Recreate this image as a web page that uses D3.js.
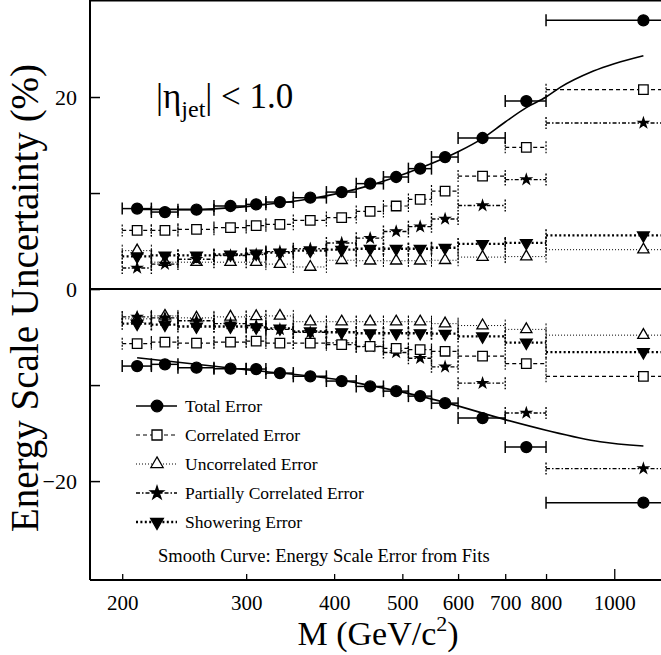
<!DOCTYPE html>
<html><head><meta charset="utf-8">
<script src="https://cdn.jsdelivr.net/npm/d3@7"></script>
<style>
body{margin:0;background:#fff}
svg{display:block}
text{font-family:"Liberation Serif","Times New Roman",serif;fill:#000}
</style>
</head><body>
<svg id="chart" width="661" height="655"></svg>
<script>
// ---- data ----
const binLow  = [200,220,240,270,300,320,350,390,430,470,510,550,600,700,800];
const binHigh = [220,240,270,300,320,350,390,430,470,510,550,600,700,800,1400];
const massCenter = [210,230,255,285,310,335,370,410,450,490,530,575,650,750,1100];

const totalUp   = [8.38,8.02,8.27,8.65,8.82,9.06,9.52,10.10,10.98,11.67,12.54,13.75,15.73,19.58,27.99];
const corrUp    = [6.11,6.11,6.22,6.40,6.60,6.74,7.15,7.44,8.09,8.65,9.34,10.2,11.77,14.76,20.77];
const uncorrUp  = [4.0,2.8,2.8,2.8,2.8,2.6,2.3,3.0,2.95,2.95,2.95,3.0,3.33,3.38,4.1];
const partialUp = [2.2,2.6,3.1,3.5,3.6,3.9,4.2,4.8,5.3,6.0,6.5,7.3,8.7,11.4,17.3];
const showerUp  = [3.4,3.5,3.5,3.6,3.7,3.8,4.0,4.1,4.2,4.2,4.2,4.3,4.7,4.8,5.6];

const totalLow   = [-8.02,-7.84,-8.19,-8.29,-8.33,-8.75,-9.09,-9.58,-10.14,-10.63,-11.15,-11.88,-13.44,-16.46,-22.25];
const corrLow    = [-5.69,-5.52,-5.63,-5.52,-5.42,-5.63,-5.63,-5.79,-5.97,-6.18,-6.30,-6.48,-6.98,-7.77,-9.09];
const uncorrLow  = [-3.1,-2.8,-3.0,-2.9,-2.85,-2.8,-3.4,-3.4,-3.4,-3.4,-3.4,-3.6,-3.8,-4.2,-4.8];
const partialLow = [-2.9,-3.0,-3.3,-3.6,-3.8,-4.2,-4.5,-5.6,-6.0,-6.6,-7.2,-8.1,-9.8,-12.9,-18.7];
const showerLow  = [-3.6,-3.7,-3.9,-3.9,-4.0,-4.1,-4.4,-4.5,-4.6,-4.6,-4.6,-4.65,-4.93,-5.58,-6.56];

// smooth fit curves
const fitUpMass  = [210,255,310,370,450,530,600,650,700,750,800,838,934,1100];
const fitUpVal   = [8.3,8.3,8.7,9.4,10.8,12.6,14.3,15.7,17.4,18.9,20.0,21.0,22.7,24.3];
const fitLowMass = [210,300,410,436,575,700,800,955,1100];
const fitLowVal  = [-7.15,-8.4,-9.5,-9.85,-11.8,-13.6,-14.7,-15.9,-16.35];

const xTicks = [200,300,400,500,600,700,800,1000];
const yTicks = [20,10,0,-10,-20];
const yLabelTicks = [20,0,-20];
const legendNames = ["Total Error","Correlated Error","Uncorrelated Error","Partially Correlated Error","Showering Error"];

// ---- scales ----
const svg = d3.select("#chart");
const x = d3.scaleLog().domain([180,1200]).range([90,670]);
const y = d3.scaleLinear().domain([-30.3,30]).range([580,1]);

const plot = svg.append("g");
plot.append("clipPath").attr("id","clip").append("rect")
  .attr("x",90).attr("y",0).attr("width",600).attr("height",580);

const styles = {
  total:   {dash:null,        w:1.5, sym:d3.symbolCircle,   size:95, fill:"#000", rot:0},
  corr:    {dash:"4,3",       w:1.2, sym:d3.symbolSquare,   size:90, fill:"#fff", rot:0},
  uncorr:  {dash:"1,2",       w:1.0, sym:d3.symbolTriangle, size:55, fill:"#fff", rot:0},
  partial: {dash:"4,2,1.5,2", w:1.4, sym:d3.symbolStar,     size:30, fill:"#000", rot:0},
  shower:  {dash:"2,2.4",     w:2.3, sym:d3.symbolTriangle, size:60, fill:"#000", rot:180}
};

const series = [
  {key:"uncorr",  up:uncorrUp,  low:uncorrLow},
  {key:"shower",  up:showerUp,  low:showerLow},
  {key:"partial", up:partialUp, low:partialLow},
  {key:"corr",    up:corrUp,    low:corrLow},
  {key:"total",   up:totalUp,   low:totalLow}
];

const g = plot.append("g").attr("clip-path","url(#clip)");

series.forEach(s=>{
  const st = styles[s.key];
  [s.up, s.low].forEach(vals=>{
    vals.forEach((v,i)=>{
      const yy = y(v), x0 = x(binLow[i]), x1 = x(binHigh[i]);
      g.append("line").attr("x1",x0).attr("x2",x1).attr("y1",yy).attr("y2",yy)
        .attr("stroke","#000").attr("stroke-width",st.w).attr("stroke-dasharray",st.dash);
      [x0,x1].forEach(xc=>{
        g.append("line").attr("x1",xc).attr("x2",xc).attr("y1",yy-6).attr("y2",yy+6)
          .attr("stroke","#000").attr("stroke-width",st.key==="total"?1.5:Math.min(st.w,1.5))
          .attr("stroke-dasharray",st.dash ? "2,1.5" : null);
      });
      g.append("path").attr("d",d3.symbol(st.sym,st.size)())
        .attr("transform",`translate(${x(massCenter[i])},${yy}) rotate(${st.rot})`)
        .attr("fill",st.fill).attr("stroke","#000").attr("stroke-width",1.3);
    });
  });
});

// smooth curves
const curveLine = d3.line().x(d=>x(d[0])).y(d=>y(d[1])).curve(d3.curveMonotoneX);
g.append("path").attr("d",curveLine(d3.zip(fitUpMass,fitUpVal)))
  .attr("fill","none").attr("stroke","#000").attr("stroke-width",1.6);
g.append("path").attr("d",curveLine(d3.zip(fitLowMass,fitLowVal)))
  .attr("fill","none").attr("stroke","#000").attr("stroke-width",1.6);

// zero line
svg.append("line").attr("x1",90).attr("x2",661).attr("y1",y(0)).attr("y2",y(0))
  .attr("stroke","#000").attr("stroke-width",2);

// frame
svg.append("line").attr("x1",90).attr("x2",661).attr("y1",0.5).attr("y2",0.5).attr("stroke","#000").attr("stroke-width",2);
svg.append("line").attr("x1",90).attr("x2",90).attr("y1",0).attr("y2",580).attr("stroke","#000").attr("stroke-width",2);

// axes
const xAxis = d3.axisBottom(x).tickValues(xTicks).tickFormat(d3.format("d")).tickSize(-6).tickPadding(15);
const xa = svg.append("g").attr("transform","translate(0,580)").call(xAxis);
xa.select(".domain").attr("d","M90,0H661").attr("stroke-width",2);
xa.selectAll(".tick line").attr("y2",d=>d===1000?-11:-6).attr("stroke-width",1.3);
xa.selectAll(".tick text").style("font-family","Liberation Serif").style("font-size","21px");

const yAxis = d3.axisLeft(y).tickValues(yTicks)
  .tickFormat(d=>yLabelTicks.includes(d)?d3.format("d")(d):"").tickSize(-10).tickPadding(13);
const ya = svg.append("g").attr("transform","translate(90,0)").call(yAxis);
ya.select(".domain").remove();
ya.selectAll(".tick line").attr("stroke-width",1.5);
ya.selectAll(".tick text").style("font-family","Liberation Serif").style("font-size","22px");

// axis titles
svg.append("text").attr("transform","translate(38,298) rotate(-90)").attr("text-anchor","middle")
  .style("font-size","39px").text("Energy Scale Uncertainty (%)");
const xt = svg.append("text").attr("x",378).attr("y",645).attr("text-anchor","middle").style("font-size","34px");
xt.append("tspan").text("M (GeV/c");
xt.append("tspan").attr("dy",-14).style("font-size","22px").text("2");
xt.append("tspan").attr("dy",14).text(")");

// eta label
const et = svg.append("text").attr("x",156).attr("y",108).style("font-size","35px");
et.append("tspan").text("|\u03b7");
et.append("tspan").attr("dy",9).style("font-size","24px").text("jet");
et.append("tspan").attr("dy",-9).text("| < 1.0");

// legend
const legKeys = ["total","corr","uncorr","partial","shower"];
const legY = [406,435,464,493,522];
legKeys.forEach((k,i)=>{
  const st = styles[k];
  svg.append("line").attr("x1",136).attr("x2",177).attr("y1",legY[i]).attr("y2",legY[i])
    .attr("stroke","#000").attr("stroke-width",st.w).attr("stroke-dasharray",st.dash);
  svg.append("path").attr("d",d3.symbol(st.sym,st.size+(k==="partial"?25:10))())
    .attr("transform",`translate(157,${legY[i]}) rotate(${st.rot})`)
    .attr("fill",st.fill).attr("stroke","#000").attr("stroke-width",1.3);
  svg.append("text").attr("x",185).attr("y",legY[i]+6).style("font-size","17.5px").text(legendNames[i]);
});
svg.append("text").attr("x",158).attr("y",562).style("font-size","18.5px")
  .text("Smooth Curve: Energy Scale Error from Fits");
</script>
</body></html>
